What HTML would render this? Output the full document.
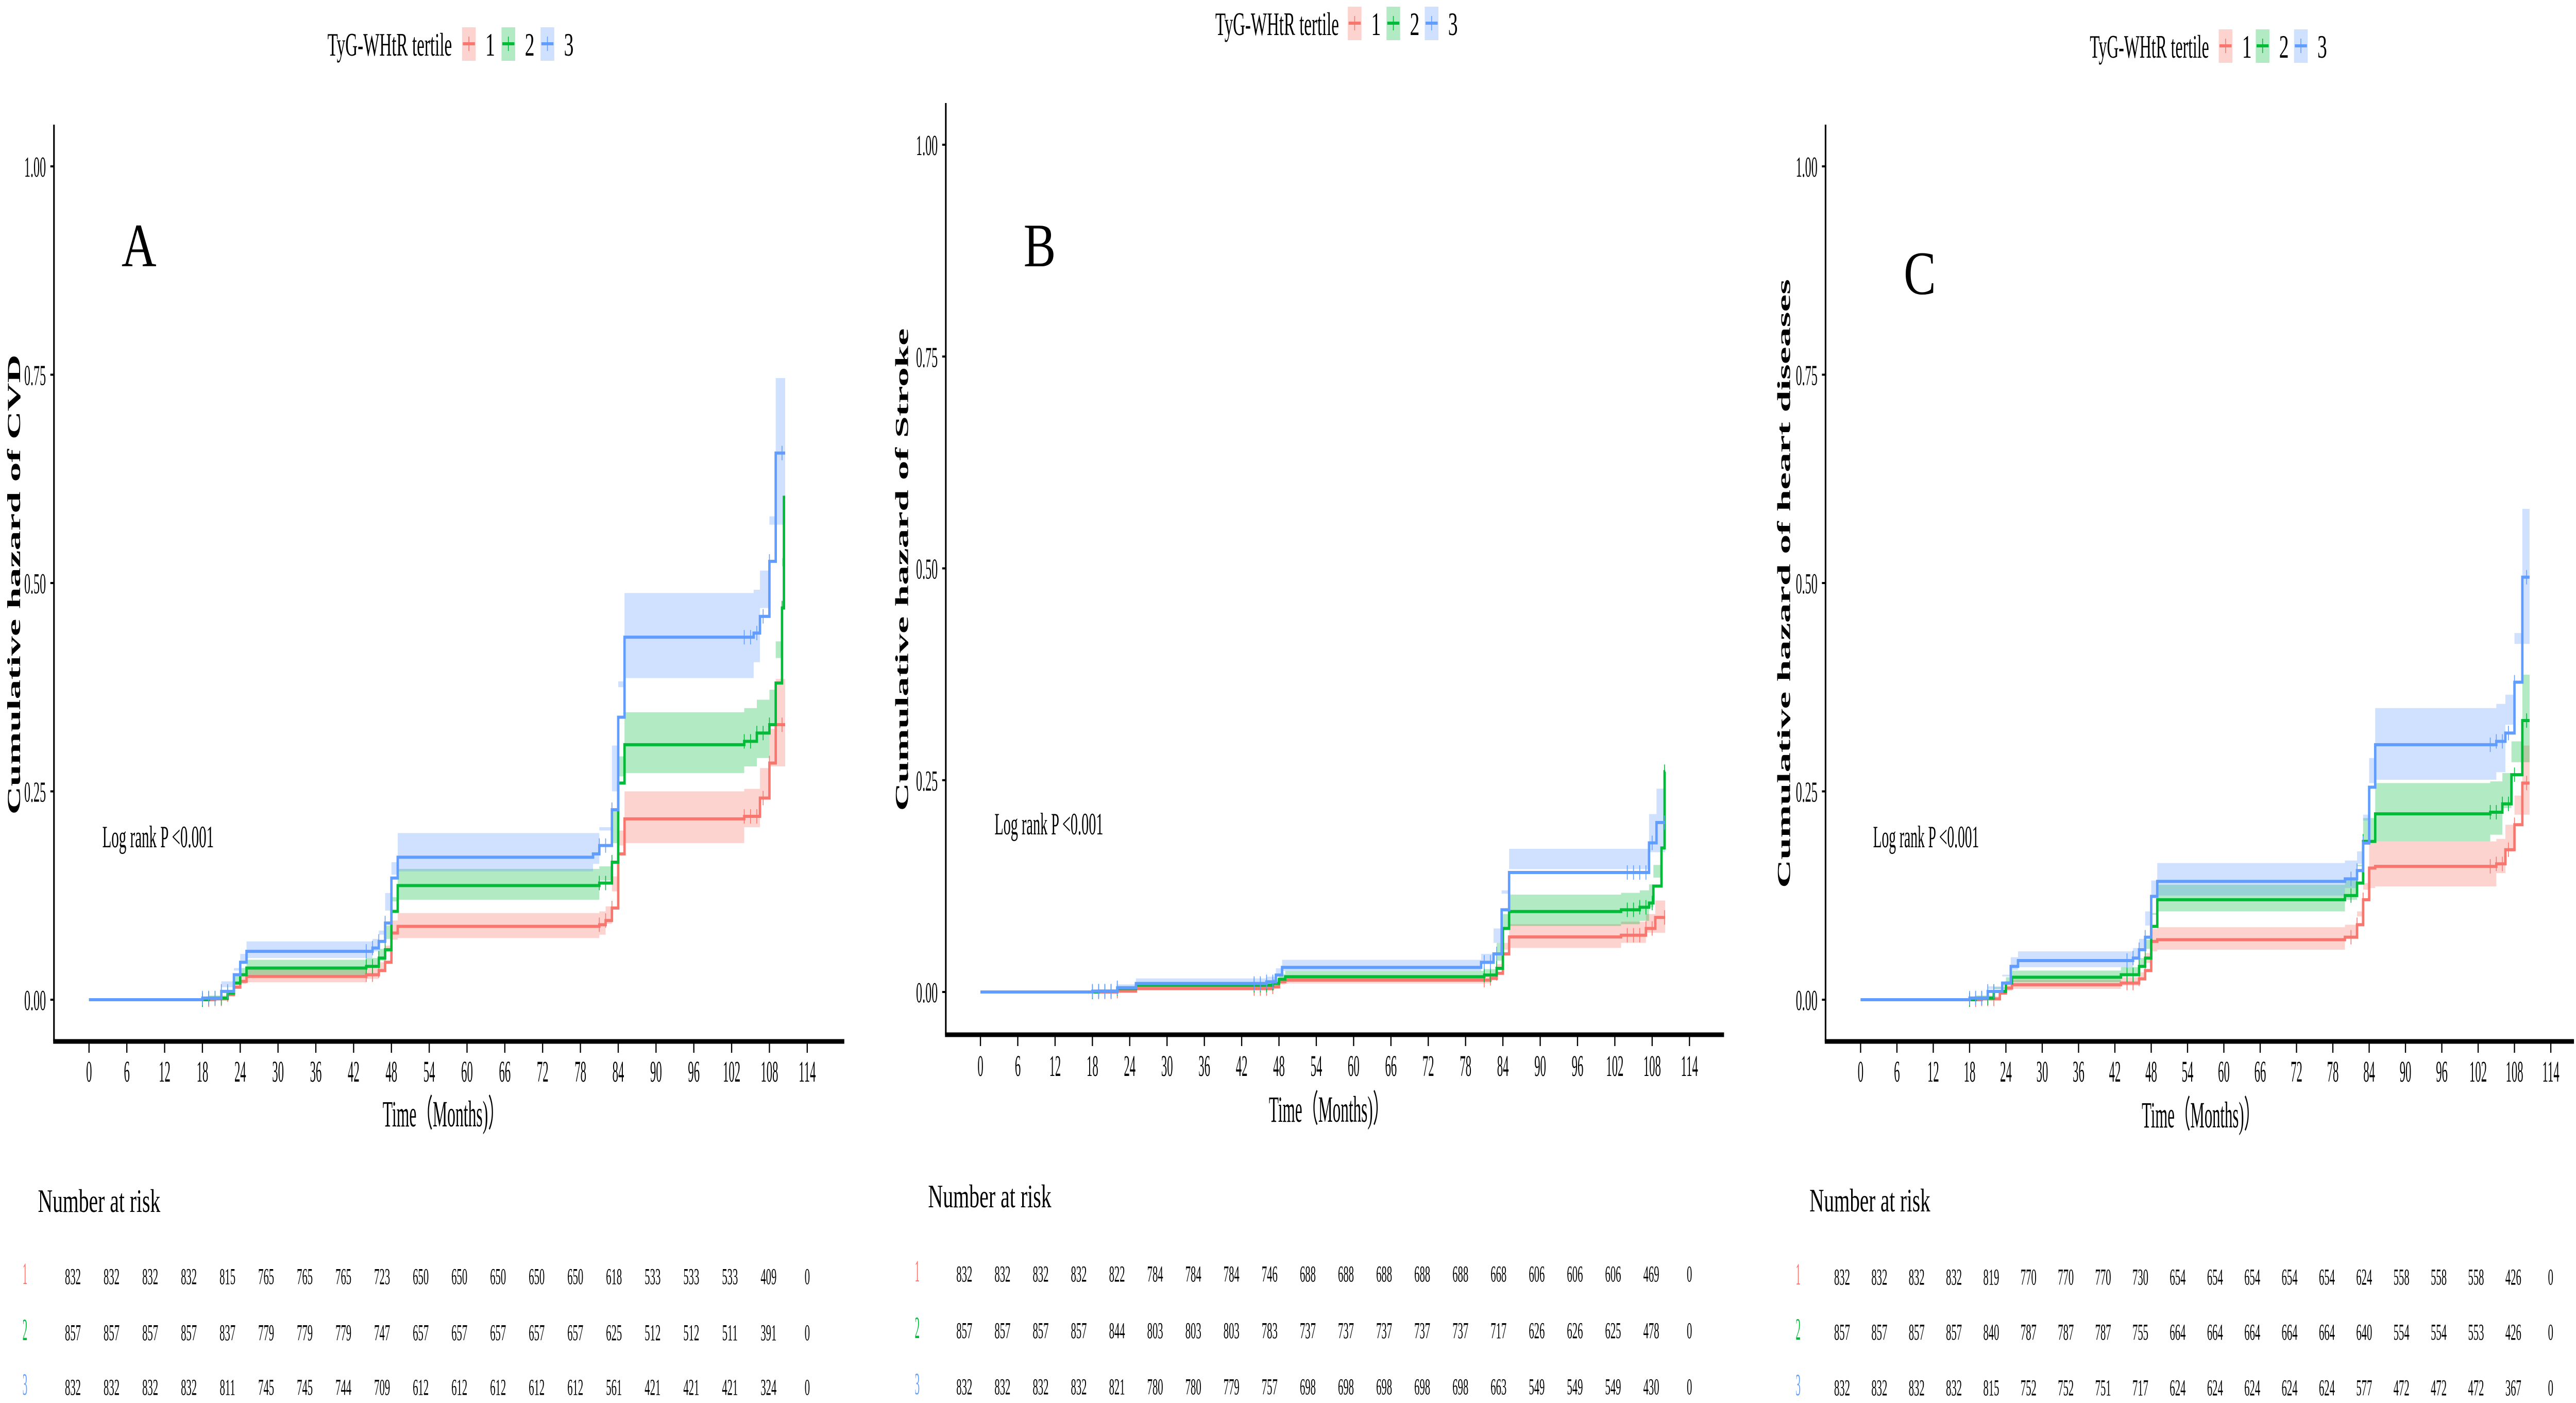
<!DOCTYPE html>
<html><head><meta charset="utf-8">
<style>
html,body{margin:0;padding:0;background:#fff;overflow:hidden;}
svg{display:block;width:100vw;height:100vh;}
text{font-family:"Liberation Serif","DejaVu Serif",serif;}
</style></head>
<body>
<svg id="fig" viewBox="0 0 6395 2724" preserveAspectRatio="none" xmlns="http://www.w3.org/2000/svg">
<rect x="0" y="0" width="6395" height="2724" fill="#fff"/>
</svg>
<script>
const xTicks = [0,6,12,18,24,30,36,42,48,54,60,66,72,78,84,90,96,102,108,114];
const yTicks = [0,0.25,0.5,0.75,1.0];
const yTickLabels = ["0.00","0.25","0.50","0.75","1.00"];
const groupLabels = ["1","2","3"];

const aT1 = [0,20,22,23,24,25,44,46,47,48,49,81,82,83,84,85,104,106.5,108,109,110.5];
const aV1 = [0,0.001,0.006,0.015,0.022,0.028,0.03,0.035,0.045,0.08,0.088,0.09,0.095,0.11,0.175,0.217,0.22,0.242,0.284,0.33,0.33];
const aL1 = [0,0,0.002,0.009,0.014,0.019,0.021,0.025,0.033,0.065,0.072,0.074,0.078,0.091,0.148,0.185,0.188,0.207,0.243,0.28,0.28];
const aH1 = [0,0.003,0.01,0.021,0.03,0.037,0.039,0.045,0.057,0.095,0.104,0.106,0.112,0.13,0.203,0.25,0.253,0.278,0.325,0.385,0.385];
const aT2 = [0,19,22,23,24,25,44,46,47,48,49,81,83,84,85,104,106,108,109,110,110.3,110.5];
const aV2 = [0,0.002,0.008,0.02,0.03,0.038,0.04,0.05,0.06,0.106,0.137,0.14,0.165,0.26,0.306,0.31,0.32,0.33,0.38,0.47,0.603,0.603];
const aL2 = [0,0,0.004,0.013,0.022,0.028,0.03,0.039,0.047,0.089,0.118,0.12,0.143,0.228,0.268,0.272,0.28,0.29,0.33,0.41,0.52,0.52];
const aH2 = [0,0.005,0.013,0.028,0.038,0.048,0.05,0.061,0.073,0.123,0.157,0.16,0.188,0.292,0.345,0.35,0.36,0.372,0.43,0.53,0.6,0.6];
const aT3 = [0,18,21,23,24,25,45,46,47,48,49,80,81,83,84,85,105.5,106.5,108,109,110.5];
const aV3 = [0,0.002,0.01,0.03,0.045,0.058,0.062,0.07,0.092,0.146,0.171,0.175,0.185,0.228,0.339,0.435,0.44,0.46,0.526,0.656,0.656];
const aL3 = [0,0,0.005,0.022,0.035,0.047,0.05,0.058,0.078,0.128,0.15,0.154,0.163,0.203,0.305,0.382,0.386,0.405,0.47,0.57,0.57];
const aH3 = [0,0.005,0.015,0.038,0.055,0.07,0.073,0.083,0.107,0.165,0.2,0.2,0.207,0.25,0.375,0.488,0.492,0.515,0.58,0.746,0.746];
const aRisk1 = [832,832,832,832,815,765,765,765,723,650,650,650,650,650,618,533,533,533,409,0];
const aRisk2 = [857,857,857,857,837,779,779,779,747,657,657,657,657,657,625,512,512,511,391,0];
const aRisk3 = [832,832,832,832,811,745,745,744,709,612,612,612,612,612,561,421,421,421,324,0];

const bT1 = [0,22,25,47,48,49,82,83,84,85,103,107,108.5,110.1];
const bV1 = [0,0.001,0.004,0.006,0.012,0.014,0.016,0.022,0.045,0.065,0.067,0.075,0.088,0.088];
const bL1 = [0,0,0.001,0.002,0.007,0.009,0.01,0.015,0.033,0.05,0.052,0.058,0.07,0.07];
const bH1 = [0,0.003,0.007,0.01,0.017,0.02,0.022,0.03,0.058,0.08,0.083,0.092,0.108,0.108];
const bT2 = [0,19,22,25,47,48,49,81,83,84,85,103,106,107.5,108.2,109.5,110,110.1];
const bV2 = [0,0.001,0.004,0.008,0.01,0.015,0.018,0.02,0.028,0.075,0.095,0.097,0.1,0.105,0.125,0.17,0.26,0.26];
const bL2 = [0,0,0.001,0.004,0.005,0.009,0.011,0.013,0.019,0.058,0.076,0.078,0.08,0.084,0.1,0.135,0.2,0.2];
const bH2 = [0,0.003,0.007,0.012,0.015,0.021,0.025,0.027,0.037,0.092,0.115,0.117,0.12,0.127,0.15,0.2,0.26,0.26];
const bT3 = [0,18,22,25,46,47.5,48.5,80.5,82.5,83.8,85,107.5,108.7,110.1];
const bV3 = [0,0.001,0.005,0.01,0.012,0.02,0.029,0.035,0.045,0.097,0.141,0.176,0.2,0.2];
const bL3 = [0,0,0.002,0.005,0.007,0.013,0.02,0.025,0.033,0.075,0.116,0.145,0.165,0.165];
const bH3 = [0,0.003,0.009,0.016,0.018,0.028,0.038,0.045,0.058,0.12,0.169,0.21,0.24,0.24];
const bRisk1 = [832,832,832,832,822,784,784,784,746,688,688,688,688,688,668,606,606,606,469,0];
const bRisk2 = [857,857,857,857,844,803,803,803,783,737,737,737,737,737,717,626,626,625,478,0];
const bRisk3 = [832,832,832,832,821,780,780,779,757,698,698,698,698,698,663,549,549,549,430,0];

const cT1 = [0,20,23,24,25,43,46,47,48,49,80,82,83,84,85,105,106.5,108,109.3,110.5];
const cV1 = [0,0.001,0.008,0.014,0.018,0.02,0.025,0.035,0.07,0.072,0.075,0.09,0.12,0.158,0.16,0.163,0.18,0.21,0.26,0.26];
const cL1 = [0,0,0.004,0.008,0.011,0.013,0.017,0.026,0.056,0.058,0.06,0.074,0.1,0.132,0.134,0.136,0.152,0.178,0.222,0.222];
const cH1 = [0,0.003,0.012,0.02,0.024,0.027,0.033,0.044,0.085,0.087,0.09,0.106,0.14,0.188,0.19,0.193,0.21,0.245,0.305,0.305];
const cT2 = [0,19,22,24,25,43,46,47,48,49,80,82,83,85,104,106,107.5,109.3,110.5];
const cV2 = [0,0.002,0.01,0.02,0.027,0.03,0.04,0.05,0.088,0.12,0.125,0.14,0.19,0.223,0.225,0.235,0.27,0.335,0.335];
const cL2 = [0,0,0.005,0.013,0.018,0.021,0.03,0.039,0.072,0.102,0.106,0.12,0.162,0.188,0.19,0.198,0.23,0.285,0.285];
const cH2 = [0,0.004,0.015,0.027,0.035,0.039,0.05,0.061,0.104,0.138,0.144,0.16,0.218,0.26,0.262,0.272,0.31,0.39,0.39];
const cT3 = [0,18,21,23.4,24.8,26,45,46,47,48,49,80,82,83,84,85,105,106.5,108,109.3,110.5];
const cV3 = [0,0.002,0.01,0.02,0.04,0.047,0.05,0.06,0.075,0.124,0.142,0.145,0.155,0.188,0.255,0.306,0.31,0.32,0.381,0.507,0.507];
const cL3 = [0,0,0.005,0.013,0.03,0.036,0.039,0.048,0.062,0.106,0.122,0.125,0.134,0.163,0.222,0.26,0.264,0.273,0.33,0.427,0.427];
const cH3 = [0,0.005,0.016,0.028,0.051,0.058,0.062,0.073,0.089,0.143,0.164,0.167,0.178,0.215,0.29,0.35,0.355,0.366,0.44,0.589,0.589];
const cRisk1 = [832,832,832,832,819,770,770,770,730,654,654,654,654,654,624,558,558,558,426,0];
const cRisk2 = [857,857,857,857,840,787,787,787,755,664,664,664,664,664,640,554,554,553,426,0];
const cRisk3 = [832,832,832,832,815,752,752,751,717,624,624,624,624,624,577,472,472,472,367,0];

const censorTimes = [18,19,20,21,22,44,45,46,47,81,82,83,104,105,106,107,108,110];

const NS = "http://www.w3.org/2000/svg";
const svg = document.getElementById("fig");
const lineCols = ["#F8766D","#00BA38","#619CFF"];
const fillCols = ["rgba(248,118,109,0.32)","rgba(0,186,56,0.30)","rgba(97,156,255,0.30)"];
const riskCols = ["#F8766D","#00BA38","#619CFF"];

function mk(tag, attrs, parent){
  const el = document.createElementNS(NS, tag);
  for (const k in attrs) el.setAttribute(k, attrs[k]);
  (parent || svg).appendChild(el);
  return el;
}
function txt(parent, x, y, str, size, sx, anchor, name, extra){
  const el = mk("text", {transform:"translate("+x+","+y+") scale("+sx+",1)", "font-size":size, "text-anchor":anchor||"start", fill:"#000"}, parent);
  if (extra) for (const k in extra) el.setAttribute(k, extra[k]);
  el.textContent = str;
  
  
  return el;
}
function stepPath(T, V, X, Y){
  const n = Math.min(T.length, V.length);
  let d = "M" + X(T[0]) + "," + Y(V[0]);
  for (let i = 1; i < n; i++) d += " H" + X(T[i]) + " V" + Y(V[i]);
  return d;
}
function ribbonPath(T, L, H, X, Y){
  const n = Math.min(T.length, L.length, H.length);
  let d = "M" + X(T[0]) + "," + Y(H[0]);
  for (let i = 1; i < n; i++) d += " H" + X(T[i]) + " V" + Y(H[i]);
  d += " V" + Y(L[n-1]);
  for (let i = n - 1; i >= 1; i--) d += " V" + Y(L[i]) + " H" + X(T[i-1]);
  d += " V" + Y(L[0]) + " Z";
  return d;
}
function valueAt(T, V, t){
  let v = V[0];
  for (let i = 0; i < Math.min(T.length, V.length); i++) if (T[i] <= t) v = V[i];
  return v;
}

function panel(cfg){
  const g = mk("g", {});
  
  
  const X = t => cfg.x0 + t * cfg.sx;
  const Y = v => cfg.y0 - v * cfg.sy;

  const lg = mk("g", {}, g);
  
  
  txt(lg, cfg.leg.tx, cfg.leg.base, "TyG-WHtR tertile", 64, 1, "start", "legend-title", {textLength: cfg.leg.tw, lengthAdjust:"spacingAndGlyphs"});
  for (let k = 0; k < 3; k++){
    const bx = cfg.leg.boxes[k];
    const by = cfg.leg.base - 55;
    const r = mk("rect", {x:bx, y:by, width:34, height:65, fill:fillCols[k]}, lg);
    
    
    mk("line", {x1:bx+2, x2:bx+32, y1:by+32, y2:by+32, stroke:lineCols[k], "stroke-width":6}, lg);
    mk("line", {x1:bx+17, x2:bx+17, y1:by+18, y2:by+46, stroke:lineCols[k], "stroke-width":2}, lg);
    txt(lg, bx + 58, cfg.leg.base, groupLabels[k], 64, 0.75, "start", "legend-label-" + groupLabels[k]);
  }

  const ya = mk("line", {x1:cfg.ax, x2:cfg.ax, y1:cfg.atop, y2:cfg.xb, stroke:"#000", "stroke-width":4}, g);
  
  
  const xa = mk("line", {x1:cfg.ax-2, x2:cfg.xend, y1:cfg.xb, y2:cfg.xb, stroke:"#000", "stroke-width":9}, g);
  
  

  for (let i = 0; i < yTicks.length; i++){
    const y = Y(yTicks[i]);
    mk("line", {x1:cfg.ax-9, x2:cfg.ax, y1:y, y2:y, stroke:"#000", "stroke-width":4}, g);
    txt(g, cfg.ylabR, y + 20, yTickLabels[i], 56, 0.55, "end", "y-tick-label");
  }
  for (let i = 0; i < xTicks.length; i++){
    const x = X(xTicks[i]);
    mk("line", {x1:x, x2:x, y1:cfg.xb+4, y2:cfg.xb+22, stroke:"#000", "stroke-width":3}, g);
    txt(g, x, cfg.xlabBase, String(xTicks[i]), 58, 0.5, "middle", "x-tick-label");
  }
  txt(g, cfg.xt.x, cfg.xt.base, "Time（Months)）", 72, 1, "start", "x-axis-title", {textLength: cfg.xt.w, lengthAdjust:"spacingAndGlyphs"});
  const yt = txt(g, 0, 0, cfg.ytitle, 46, 1, "middle", "y-axis-title", {textLength: cfg.yt.len, lengthAdjust:"spacingAndGlyphs", "font-weight":"bold"});
  yt.setAttribute("transform", "translate(" + cfg.yt.x + "," + cfg.yt.cy + ") rotate(-90)");

  txt(g, cfg.letter.x, cfg.letter.base, cfg.letter.s, 120, 1, "middle", "panel-letter");
  txt(g, cfg.lr.x, cfg.lr.base, "Log rank P <0.001", 60, 1, "start", "log-rank-p", {textLength: cfg.lr.w, lengthAdjust:"spacingAndGlyphs"});

  for (let k = 0; k < 3; k++){
    const s = cfg.series[k];
    const p = mk("path", {d: ribbonPath(s.t, s.lo, s.hi, X, Y), fill: fillCols[k], stroke:"none"}, g);
    
    
  }
  for (let k = 0; k < 3; k++){
    const s = cfg.series[k];
    const p = mk("path", {d: stepPath(s.t, s.v, X, Y), fill:"none", stroke: lineCols[k], "stroke-width":6}, g);
    
    
    for (const ct of censorTimes){
      const cy = Y(valueAt(s.t, s.v, ct));
      const cx = X(ct);
      const cm = mk("line", {x1:cx, x2:cx, y1:cy-14, y2:cy+14, stroke: lineCols[k], "stroke-width":2}, g);
      
      
    }
  }

  const rt = mk("g", {}, g);
  
  
  txt(rt, cfg.rk.tx, cfg.rk.tbase, "Number at risk", 64, 1, "start", "risk-table-title", {textLength: cfg.rk.tw, lengthAdjust:"spacingAndGlyphs"});
  for (let k = 0; k < 3; k++){
    const rowBase = cfg.rk.rows[k];
    txt(rt, cfg.rk.lx, rowBase, groupLabels[k], 60, 0.4, "middle", "risk-row-label-" + groupLabels[k], {style: "fill:" + riskCols[k]});
    const vals = cfg.risk[k];
    const step = (cfg.rk.x1 - cfg.rk.x0) / (vals.length - 1);
    for (let i = 0; i < vals.length; i++){
      txt(rt, cfg.rk.x0 + i * step, rowBase, String(vals[i]), 44, 0.6, "middle", "risk-count");
    }
  }
}

panel({id:"cvd", x0:221, sx:15.64, y0:1941, sy:1618, ax:134, atop:242, xb:2022, xend:2096,
  ylabR:114, xlabBase:2100, ytitle:"Cumulative hazard of CVD",
  yt:{x:50, cy:1135, len:893}, xt:{x:950, base:2187, w:302},
  leg:{tx:813, tw:309, base:108, boxes:[1147,1245,1342]},
  letter:{s:"A", x:345, base:517}, lr:{x:254, base:1645, w:277},
  series:[{t:aT1,v:aV1,lo:aL1,hi:aH1},{t:aT2,v:aV2,lo:aL2,hi:aH2},{t:aT3,v:aV3,lo:aL3,hi:aH3}],
  risk:[aRisk1,aRisk2,aRisk3],
  rk:{tx:94, tw:304, tbase:2353, lx:62, x0:181, x1:2004, rows:[2493,2602,2708]}});

panel({id:"stroke", x0:2434, sx:15.44, y0:1926, sy:1645, ax:2348, atop:200, xb:2009, xend:4280,
  ylabR:2328, xlabBase:2089, ytitle:"Cumulative hazard of Stroke",
  yt:{x:2254, cy:1106, len:937}, xt:{x:3150, base:2178, w:298},
  leg:{tx:3017, tw:307, base:68, boxes:[3346,3442,3537]},
  letter:{s:"B", x:2581, base:517}, lr:{x:2469, base:1620, w:270},
  series:[{t:bT1,v:bV1,lo:bL1,hi:bH1},{t:bT2,v:bV2,lo:bL2,hi:bH2},{t:bT3,v:bV3,lo:bL3,hi:bH3}],
  risk:[bRisk1,bRisk2,bRisk3],
  rk:{tx:2304, tw:306, tbase:2344, lx:2277, x0:2394, x1:4194, rows:[2488,2598,2707]}});

panel({id:"heart", x0:4619, sx:15.03, y0:1941, sy:1618, ax:4532, atop:242, xb:2022, xend:6390,
  ylabR:4512, xlabBase:2100, ytitle:"Cumulative hazard of  heart diseases",
  yt:{x:4444, cy:1133, len:1182}, xt:{x:5317, base:2189, w:293},
  leg:{tx:5188, tw:296, base:112, boxes:[5508,5600,5695]},
  letter:{s:"C", x:4766, base:571}, lr:{x:4650, base:1645, w:263},
  series:[{t:cT1,v:cV1,lo:cL1,hi:cH1},{t:cT2,v:cV2,lo:cL2,hi:cH2},{t:cT3,v:cV3,lo:cL3,hi:cH3}],
  risk:[cRisk1,cRisk2,cRisk3],
  rk:{tx:4492, tw:300, tbase:2352, lx:4464, x0:4573, x1:6332, rows:[2494,2601,2709]}});
</script>
</body></html>
